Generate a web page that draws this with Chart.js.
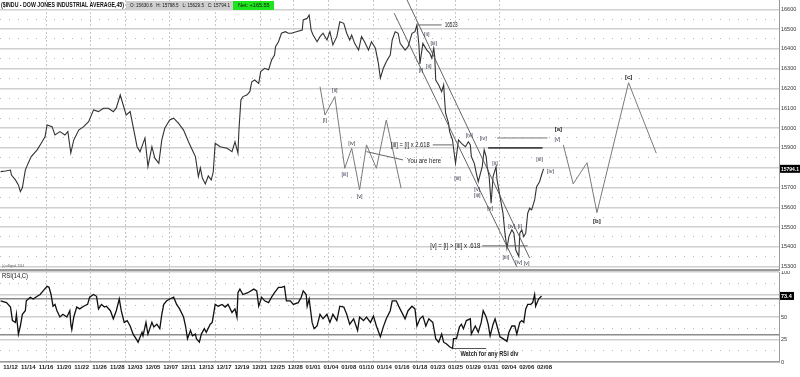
<!DOCTYPE html>
<html>
<head>
<meta charset="utf-8">
<title>$INDU 45 min with RSI</title>
<script src="https://cdn.jsdelivr.net/npm/chart.js@4.4.1/dist/chart.umd.min.js"></script>
<style>
  html, body { margin: 0; padding: 0; background: #fff; }
  #priceChart { position: absolute; left: 0; top: 0; }
  #rsiChart { position: absolute; left: 0; top: 271px; }
</style>
</head>
<body>
<canvas id="priceChart" width="800" height="271"></canvas>
<canvas id="rsiChart" width="800" height="106"></canvas>
<script>
const FONT = '"Liberation Sans", Arial, sans-serif';
Chart.defaults.font.family = FONT;

// x axis is in 45-minute bars, one date label every 18 bars
const dateLabels = ["11/12","11/14","11/16","11/20","11/22","11/26","11/28","12/03","12/05","12/07",
  "12/11","12/13","12/17","12/19","12/21","12/25","12/28","01/01","01/04","01/08",
  "01/10","01/14","01/16","01/18","01/23","01/25","01/29","01/31","02/04","02/06","02/08"];
const barsPerLabel = 18;
const weekStarts = [36, 81, 116, 161, 207, 253, 286, 322, 367, 411, 450, 494];
const barMin = -10.6, barMax = 777.1;

const priceTicks = [15300,15400,15500,15600,15700,15800,15900,16000,16100,16200,16300,16400,16500,16600];
const priceMidTicks = [15350,15450,15550,15650,15750,15850,15950,16050,16150,16250,16350,16450,16550];

// last bar header
const lastOpen = 15630.6, lastHigh = 15798.5, lastLow = 15629.5, lastClose = 15794.1, lastNet = 165.55;

// closes
const priceBars = [-10,-5,0,1,5,8,10,12,15,18,
  21,27,32,35,37,42,45,50,55,58,
  61,64,69,74,79,84,89,94,99,104,
  107,111,113,117,121,124,128,131,136,139,
  143,146,150,153,156,161,165,170,175,180,
  183,187,190,192,194,197,200,203,205,207,
  212,219,224,227,230,231,233,235,239,242,
  244,247,251,253,257,261,264,267,268,271,
  274,278,281,284,289,295,296,300,302,304,
  306,310,313,316,320,323,326,330,333,337,
  340,343,345,348,352,355,358,362,365,369,
  372,374,377,380,384,386,389,392,394,399,
  402,406,409,411,413,414,417,421,424,426,
  428,429,430,433,436,438,439,440,443,444,
  447,448,450,453,456,460,463,465,466,469,
  471,473,477,479,481,482,484,486,488,491,
  492,495,498,500,502,504,507,509,511,514,
  515,517,519,521,523,525,527,530,532,535,
  537,539];
const priceClose = [15780,15783,15788,15763,15738,15713,15679,15698,15788,15824,
  15856,15890,15931,15957,16016,16007,15965,15982,15965,15982,
  15874,15940,15990,16007,16032,16092,16083,16100,16100,16083,
  16102,16167,16133,16066,16083,16007,15906,15881,15949,15805,
  15906,15848,15822,15940,15999,16041,16050,16024,15990,15931,
  15898,15856,15755,15799,15748,15718,15758,15738,15778,15923,
  15906,15898,15881,15931,15873,15990,16142,16159,16167,16184,
  16234,16243,16226,16285,16302,16294,16344,16369,16411,16436,
  16479,16487,16479,16479,16487,16495,16546,16555,16571,16495,
  16470,16436,16462,16479,16445,16487,16420,16462,16537,16529,
  16479,16445,16470,16428,16394,16462,16436,16394,16436,16403,
  16327,16252,16302,16335,16369,16445,16487,16479,16428,16394,
  16411,16479,16487,16521,16420,16324,16428,16394,16378,16353,
  16403,16361,16243,16218,16184,16218,16142,16075,16024,15982,
  15940,15898,15822,15940,15923,15906,15931,15915,15856,15822,
  15772,15729,15805,15890,15856,15805,15755,15620,15755,15805,
  15738,15654,15570,15469,15393,15452,15486,15469,15384,15351,
  15469,15486,15452,15469,15570,15595,15587,15637,15704,15729,
  15763,15794.1];

// RSI(14)
const rsiBars = [-10,-4,0,2,5,6,8,10,12,15,
  16,20,23,27,30,33,37,39,41,43,
  45,47,50,53,57,60,61,62,64,67,
  70,74,78,80,84,87,89,92,95,97,
  101,104,107,110,112,115,118,121,124,128,
  129,133,134,137,139,143,145,148,151,153,
  155,158,161,165,168,171,175,177,179,182,
  184,187,188,191,193,196,198,202,204,207,
  210,214,217,220,224,227,229,230,232,235,
  240,246,249,251,254,257,261,264,267,271,
  274,277,279,283,286,291,294,296,299,300,
  302,305,307,310,313,316,320,323,326,330,
  333,337,340,343,347,351,353,357,360,364,
  367,370,374,377,380,384,386,390,393,399,
  402,406,409,411,414,417,420,423,427,430,
  433,436,438,441,444,447,448,451,454,456,
  458,461,465,466,470,473,476,478,481,483,
  485,488,490,492,495,498,502,504,507,510,
  512,515,517,519,521,523,526,528,530,531,
  534,537];
const rsiValues = [68,66,61,46,44,53,31,40,53,57,
  68,72,70,73,75,79,84,83,75,62,
  64,57,50,53,50,57,42,36,50,61,
  59,62,64,72,75,73,59,64,61,62,
  57,48,57,70,57,44,46,40,31,24,
  22,33,29,44,31,44,39,42,37,53,
  64,68,70,72,64,59,50,40,26,35,
  29,31,26,22,31,37,33,42,44,64,
  62,64,61,64,55,59,50,77,81,75,
  77,81,79,62,72,68,66,72,77,83,
  83,84,68,68,64,66,72,79,75,62,
  70,44,37,40,53,48,53,44,53,46,
  62,61,53,42,48,35,50,46,50,44,
  51,40,28,39,48,57,68,68,61,48,
  57,62,59,40,48,51,40,48,44,26,
  22,31,22,20,17,15,26,26,39,42,
  37,46,48,31,40,33,44,57,50,42,
  29,42,48,40,28,26,23,33,40,40,
  31,44,46,44,59,64,64,66,75,62,
  70,73.4];
const rsiTicks = [0, 25, 50, 75, 100];
const rsiMidTicks = [12.5, 37.5, 62.5, 87.5];
const rsiBands = [30, 70];

// wave count drawings
const waveLeftBars = [313,318,328,338,345,353,360,370,380,395];
const waveLeftPrices = [16209,16066,16159,15797,15898,15688,15915,15797,16041,15696];
const waveRightBars = [559,569,583,593,625,653];
const waveRightPrices = [15915,15718,15825,15573,16229,15873];
const channelUpperBars = [401, 525];
const channelUpperPrices = [16647, 15343];
const channelLowerBars = [388, 512];
const channelLowerPrices = [16580, 15300];
const pointerBars = [360, 397];
const pointerPrices = [15881, 15839];

// horizontal notes
const noteLevels = [16521, 15915, 15950, 15900, 15405];
const noteStart = [412, 427, 492, 483, 477];
const noteEnd = [436, 447, 543, 538, 523];
const noteWidths = [1, 1, 1, 1.6, 1];
const noteColors = ["#666", "#666", "#777", "#444", "#666"];
const noteTexts = ["16523", "[iii] = [i] x 2.618", "You are here", "[v] = [i] > [iii] x .618"];
const noteTextBars = [439, 424, 401, 475];
const noteTextPrices = [16521, 15915, 15834, 15405];
const noteTextAlign = ["left", "right", "left", "right"];
const noteTextWidth = [13, 39, 34, 50];

const waveLabelText = ["[i]","[ii]","[iii]","[iv]","[v]",
  "[a]","[v]","[b]","[c]",
  "[ii]","[iii]","[i]","[ii]","[iv]","[iv]","[iii]","[v]","[iii]","[ii]","[v]",
  "[iii]","[iv]","[iii]","[iv]","[v]","[iv]","[i]"];
const waveLabelBars = [318,328,338,345,353,
  554,553,593,625,
  421,428,415,423,464,478,452,472,472,490,485,
  535,546,501,514,522,507,515];
const waveLabelPrices = [16036,16190,15768,15920,15655,
  15995,15942,15531,16258,
  16475,16425,16290,16310,15965,15945,15743,15690,15660,15823,15595,
  15839,15783,15344,15319,15314,15502,15501];
const waveLabelBold = ["[a]", "[b]", "[c]"];

const watchBars = [447, 481];
const watchValue = 15;

function pts(bars, vals) {
  return bars.map((b, i) => ({ x: b, y: vals[i] }));
}
function lineSet(data, color, width) {
  return { data: data, borderColor: color, borderWidth: width, pointRadius: 0,
    tension: 0, fill: false, xAxisID: "x", yAxisID: "y" };
}

const noteSets = noteLevels.map((lv, i) =>
  lineSet(pts([noteStart[i], noteEnd[i]], [lv, lv]), noteColors[i], noteWidths[i]));

const weekAxis = {
  type: "linear", position: "bottom", min: barMin, max: barMax,
  ticks: { display: false },
  grid: { color: "#c8c8c8", drawTicks: false, lineWidth: 1 },
  border: { display: false, dash: [2, 2] },
  afterBuildTicks: (s) => { s.ticks = weekStarts.map(v => ({ value: v })); },
  afterFit: (s) => { s.height = 0; }
};

const headerPlugin = {
  id: "header",
  afterDraw(chart) {
    const ctx = chart.ctx;
    ctx.save();
    ctx.textBaseline = "middle";
    ctx.fillStyle = "#111";
    ctx.font = "bold 7px " + FONT;
    ctx.fillText("($INDU - DOW JONES INDUSTRIAL AVERAGE,45)", 1, 5.5, 123);
    ctx.fillStyle = "#cfcfcf";
    ctx.fillRect(126, 1, 107, 9);
    ctx.fillStyle = "#111";
    ctx.font = "5.5px " + FONT;
    const ohlc = "O: " + lastOpen.toFixed(1) + "   H: " + lastHigh.toFixed(1) +
      "   L: " + lastLow.toFixed(1) + "   C: " + lastClose.toFixed(1);
    ctx.fillText(ohlc, 130, 5.5, 100);
    ctx.fillStyle = "#1ee41e";
    ctx.fillRect(233, 1, 41, 9);
    ctx.fillStyle = "#111";
    ctx.fillText("Net: +" + lastNet.toFixed(2), 238, 5.5, 33);
    ctx.font = "4px " + FONT;
    ctx.fillStyle = "#555";
    ctx.fillText("(c) eSignal, 2014", 2, 266, 22);

    // labels on the chart
    const x = chart.scales.x, y = chart.scales.y;
    waveLabelText.forEach((t, i) => {
      const bold = waveLabelBold.includes(t);
      ctx.font = (bold ? "bold 6px " : "5.5px ") + FONT;
      ctx.fillStyle = bold ? "#222" : "#33384a";
      ctx.textAlign = "center";
      ctx.fillText(t, x.getPixelForValue(waveLabelBars[i]), y.getPixelForValue(waveLabelPrices[i]));
    });
    ctx.font = "6.5px " + FONT;
    ctx.fillStyle = "#222";
    noteTexts.forEach((t, i) => {
      ctx.textAlign = noteTextAlign[i];
      ctx.fillText(t, x.getPixelForValue(noteTextBars[i]), y.getPixelForValue(noteTextPrices[i]), noteTextWidth[i]);
    });

    // last price marker
    const py = y.getPixelForValue(lastClose);
    ctx.fillStyle = "#000";
    ctx.fillRect(chart.chartArea.right + 1, py - 4, 20, 8);
    ctx.fillStyle = "#fff";
    ctx.font = "bold 5.5px " + FONT;
    ctx.textAlign = "left";
    ctx.fillText(lastClose.toFixed(1), chart.chartArea.right + 2, py + 0.5, 18);
    ctx.restore();
  }
};

new Chart(document.getElementById("priceChart"), {
  type: "line",
  data: {
    datasets: [
      lineSet(pts(waveLeftBars, waveLeftPrices), "#7a7a7a", 1),
      lineSet(pts(waveRightBars, waveRightPrices), "#7a7a7a", 1),
      lineSet(pts(channelUpperBars, channelUpperPrices), "#555", 0.9),
      lineSet(pts(channelLowerBars, channelLowerPrices), "#555", 0.9),
      lineSet(pts(pointerBars, pointerPrices), "#666", 1),
      ...noteSets,
      lineSet(pts(priceBars, priceClose), "#333", 1.1)
    ]
  },
  options: {
    responsive: false,
    animation: false,
    events: [],
    layout: { padding: { top: 0, bottom: 1, left: 0, right: 0 } },
    plugins: { legend: { display: false }, tooltip: { enabled: false } },
    scales: {
      x: {
        type: "linear", position: "bottom", min: barMin, max: barMax,
        ticks: { display: false },
        grid: { display: false, drawTicks: false },
        border: { display: true, color: "#9a9a9a", width: 2 },
        afterFit: (s) => { s.height = 0; }
      },
      xw: weekAxis,
      y: {
        position: "right", min: 15283, max: 16647,
        afterBuildTicks: (s) => { s.ticks = priceTicks.map(v => ({ value: v })); },
        ticks: { font: { size: 5.5 }, color: "#333", padding: 2, callback: (v) => String(v) },
        grid: { color: "#cfcfcf", lineWidth: 1.5, drawTicks: false },
        border: { display: true, color: "#999", width: 1 },
        afterFit: (s) => { s.width = 21; s.paddingTop = 0; s.paddingBottom = 0; }
      },
      y50: {
        position: "right", min: 15283, max: 16647,
        afterBuildTicks: (s) => { s.ticks = priceMidTicks.map(v => ({ value: v })); },
        ticks: { display: false },
        grid: { color: "#b8b8b8", lineWidth: 1, drawTicks: false },
        border: { display: false, dash: [1, 8] },
        afterFit: (s) => { s.width = 0; s.paddingTop = 0; s.paddingBottom = 0; }
      }
    }
  },
  plugins: [headerPlugin]
});

const rsiPlugin = {
  id: "rsiNotes",
  afterDraw(chart) {
    const ctx = chart.ctx, x = chart.scales.x, y = chart.scales.y;
    ctx.save();
    ctx.textBaseline = "middle";
    ctx.fillStyle = "#111";
    ctx.font = "6.5px " + FONT;
    ctx.fillText("RSI(14,C)", 2, 5.5, 26);
    ctx.font = "bold 6.5px " + FONT;
    ctx.fillStyle = "#222";
    ctx.fillText("Watch for any RSI div", x.getPixelForValue(455), y.getPixelForValue(9), 58);
    const last = rsiValues[rsiValues.length - 1];
    const ry = y.getPixelForValue(last);
    ctx.fillStyle = "#000";
    ctx.fillRect(chart.chartArea.right + 1, ry - 4, 14, 8);
    ctx.fillStyle = "#fff";
    ctx.font = "bold 5.5px " + FONT;
    ctx.fillText(last.toFixed(1), chart.chartArea.right + 2, ry + 0.5, 12);
    ctx.restore();
  }
};

new Chart(document.getElementById("rsiChart"), {
  type: "line",
  data: {
    datasets: [
      lineSet(pts(watchBars, [watchValue, watchValue]), "#555", 1),
      lineSet(pts(rsiBars, rsiValues), "#111", 1.3)
    ]
  },
  options: {
    responsive: false,
    animation: false,
    events: [],
    layout: { padding: { top: 1, bottom: 0, left: 0, right: 0 } },
    plugins: { legend: { display: false }, tooltip: { enabled: false } },
    scales: {
      x: {
        type: "linear", position: "bottom", min: barMin, max: barMax,
        afterBuildTicks: (s) => { s.ticks = dateLabels.map((d, i) => ({ value: i * barsPerLabel })); },
        ticks: {
          autoSkip: false, maxRotation: 0, minRotation: 0, padding: 2,
          font: { size: 6, weight: "bold" }, color: "#222",
          callback: (v) => dateLabels[Math.round(v / barsPerLabel)]
        },
        grid: { display: false, drawTicks: false },
        border: { display: true, color: "#9a9a9a", width: 1.5 },
        afterFit: (s) => { s.height = 15; s.paddingLeft = 0; s.paddingRight = 0; }
      },
      xw: weekAxis,
      y: {
        position: "right", min: 0, max: 100,
        afterBuildTicks: (s) => { s.ticks = rsiTicks.map(v => ({ value: v })); },
        ticks: { font: { size: 5.5 }, color: "#333", padding: 2, callback: (v) => (v === 75 ? "" : String(v)) },
        grid: { color: "#cfcfcf", lineWidth: 1.5, drawTicks: false },
        border: { display: true, color: "#999", width: 1 },
        afterFit: (s) => { s.width = 21; s.paddingTop = 0; s.paddingBottom = 0; }
      },
      yl: {
        position: "right", min: 0, max: 100,
        afterBuildTicks: (s) => { s.ticks = rsiBands.map(v => ({ value: v })); },
        ticks: { display: false },
        grid: { color: "#8a8a8a", lineWidth: 1.6, drawTicks: false },
        border: { display: false },
        afterFit: (s) => { s.width = 0; s.paddingTop = 0; s.paddingBottom = 0; }
      },
      ym: {
        position: "right", min: 0, max: 100,
        afterBuildTicks: (s) => { s.ticks = rsiMidTicks.map(v => ({ value: v })); },
        ticks: { display: false },
        grid: { color: "#b8b8b8", lineWidth: 1, drawTicks: false },
        border: { display: false, dash: [1, 8] },
        afterFit: (s) => { s.width = 0; s.paddingTop = 0; s.paddingBottom = 0; }
      }
    }
  },
  plugins: [rsiPlugin]
});
</script>
</body>
</html>
